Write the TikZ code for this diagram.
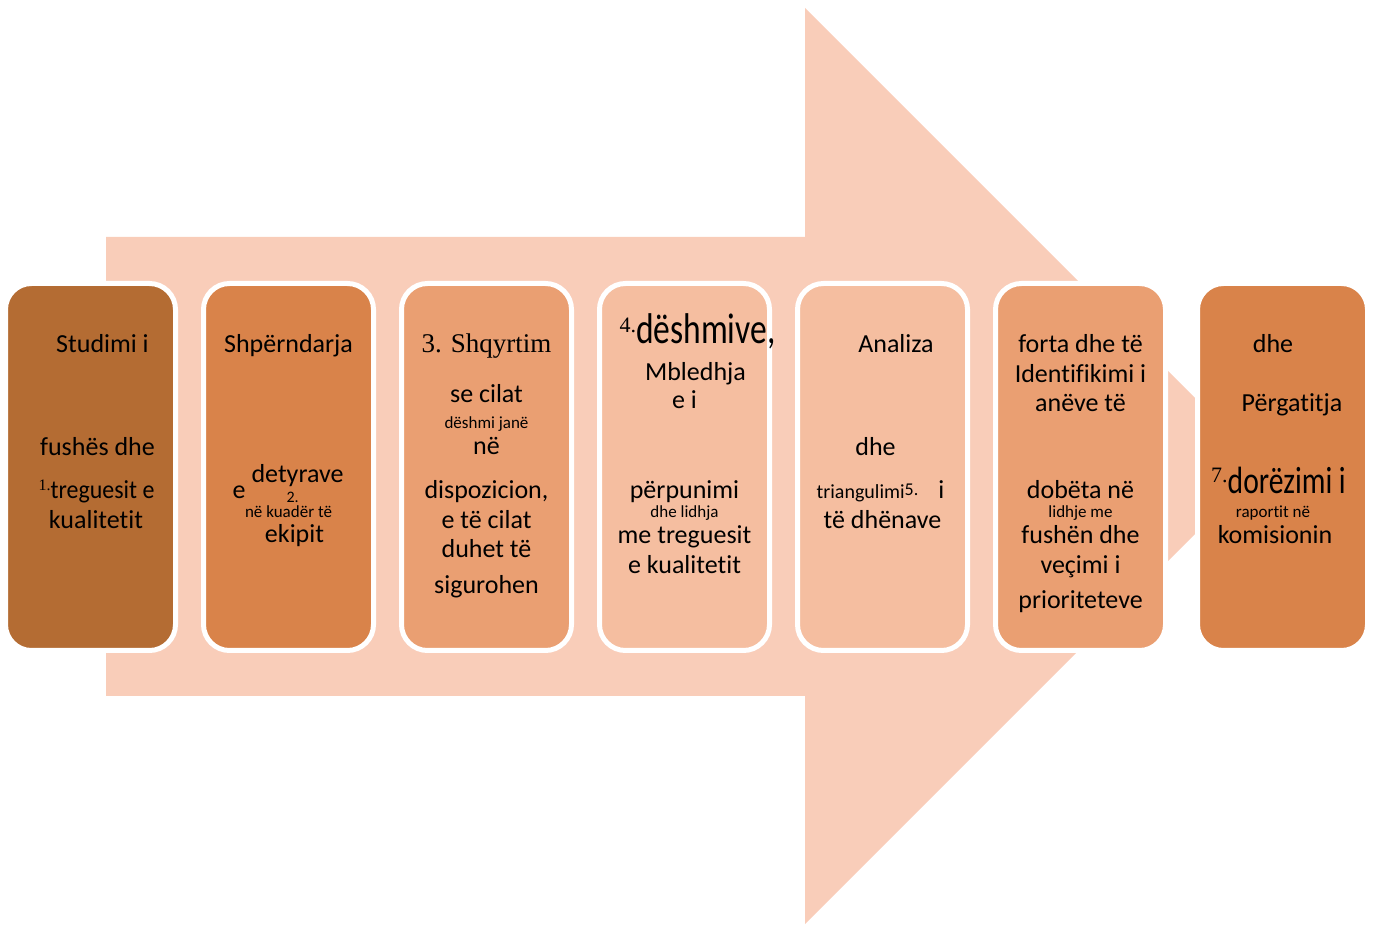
\documentclass[tikz,border=0pt]{standalone}
\usepackage{fontspec}
\setmainfont{Carlito}[Ligatures={NoCommon,NoContextual}]
\newfontfamily\serfont{Liberation Serif}
\newfontfamily\condfont{Carlito}[FakeStretch=0.78,Ligatures={NoCommon,NoContextual}]
\newfontfamily\tightfont{Carlito}[FakeStretch=0.92,Ligatures={NoCommon,NoContextual}]
\usepackage{tikz}
\usetikzlibrary{positioning}

\definecolor{arrowfill}{RGB}{249,205,185}
\definecolor{stageA}{RGB}{180,108,51}
\definecolor{stageB}{RGB}{217,131,74}
\definecolor{stageC}{RGB}{234,159,114}
\definecolor{stageD}{RGB}{245,190,160}

\newcommand\smalltxt{\fontsize{8.5}{0}\selectfont}
\newcommand\stline[2][0pt]{\makebox[0pt]{\hspace*{#1}#2\hspace*{-#1}}}
\newcommand\stagetext[1]{\parbox[c][183.5pt][t]{85pt}{\centering\lineskiplimit=-1000pt\fontsize{13}{0}\selectfont\mbox{}#1}}

\tikzset{stage/.style={shape=rectangle, rounded corners=13pt, draw=white, line width=2.5pt, inner sep=0pt}}

\begin{document}
\begin{tikzpicture}[x=1pt, y=1pt, node distance=99pt]
	\useasboundingbox (0,0) rectangle (687.5,463);
	% big arrow behind the stages
	\fill[arrowfill] (53,115) -- (53,344.5) -- (402.5,344.5) -- (402.5,459) -- (631.5,230) -- (402.5,1) -- (402.5,115) -- cycle;

	\node (s1) at (45.25,229.5) [stage, fill=stageA] {\stagetext{\\[34.5pt]\stline[6pt]{Studimi i}\\[51.5pt]\stline[3.5pt]{fushës dhe}\\[21.5pt]\stline[3pt]{\raisebox{4pt}{\serfont\fontsize{8}{0}\selectfont 1.}{\tightfont treguesit e}}\\[15pt]\stline[2.75pt]{kualitetit}}};
	\node (s2) [right of=s1, stage, fill=stageB] {\stagetext{\\[34.5pt]\stline{Shpërndarja}\\[65pt]\stline[4.5pt]{detyrave}\\[8pt]\makebox[0pt][l]{\hspace*{-28pt}\rlap{e}\hspace*{27pt}\raisebox{-2pt}{\fontsize{8}{0}\selectfont 2.}}\\[9.5pt]\stline{\smalltxt në kuadër të}\\[12.5pt]\stline[3pt]{ekipit}}};
	\node (s3) [right of=s2, stage, fill=stageC] {\stagetext{\\[34.5pt]\stline{\serfont\fontsize{13.5}{0}\selectfont 3. Shqyrtim}\\[25pt]\stline{se cilat}\\[13pt]\stline{\smalltxt dëshmi janë}\\[13pt]\stline{në}\\[22pt]\stline{dispozicion,}\\[15pt]\stline{e të cilat}\\[14.5pt]\stline{duhet të}\\[18pt]\stline{sigurohen}}};
	\node (s4) [right of=s3, stage, fill=stageD] {\stagetext{\\[30pt]\stline[6.5pt]{\raisebox{5.5pt}{\serfont\fontsize{11}{0}\selectfont 4.}{\condfont\fontsize{21.5}{0}\selectfont dëshmive,}}\\[18.5pt]\stline[5.5pt]{Mbledhja}\\[14pt]\stline{e i}\\[45pt]\stline{përpunimi}\\[9.5pt]\stline{\smalltxt dhe lidhja}\\[13pt]\stline{me treguesit}\\[15pt]\stline{e kualitetit}}};
	\node (s5) [right of=s4, stage, fill=stageD] {\stagetext{\\[34.5pt]\stline[6.75pt]{Analiza}\\[51.5pt]\stline[-3.5pt]{dhe}\\[21.5pt]\stline[-1pt]{{\fontsize{10}{0}\selectfont triangulimi}\raisebox{1.5pt}{\fontsize{9}{0}\selectfont 5.}\hspace{10pt}i}\\[15pt]\stline{të dhënave}}};
	\node (s6) [right of=s5, stage, fill=stageC] {\stagetext{\\[34.5pt]\stline{forta dhe të}\\[15pt]\stline{Identifikimi i}\\[14.5pt]\stline{anëve të}\\[43.5pt]\stline{dobëta në}\\[9.5pt]\stline{\smalltxt lidhje me}\\[13pt]\stline{fushën dhe}\\[15pt]\stline{veçimi i}\\[17.5pt]\stline{prioriteteve}}};
	\node (s7) [right of=s6, xshift=2pt, stage, fill=stageB] {\stagetext{\\[34.5pt]\stline[-4.75pt]{dhe}\\[29.5pt]\stline[4.75pt]{Përgatitja}\\[41pt]\stline[-2pt]{\raisebox{5.5pt}{\serfont\fontsize{11}{0}\selectfont 7.}{\condfont\fontsize{19}{0}\selectfont dorëzimi i}}\\[12pt]\stline[-4.75pt]{\smalltxt raportit në}\\[13pt]\stline[-3.75pt]{komisionin}}};
\end{tikzpicture}
\end{document}
